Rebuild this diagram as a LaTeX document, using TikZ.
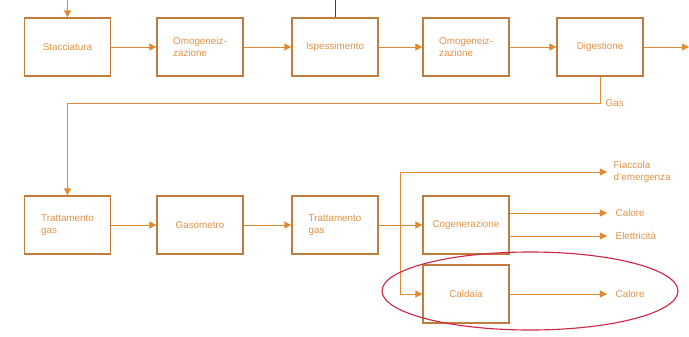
\documentclass[tikz,border=0pt]{standalone}
\usepackage{fontspec}
\setmainfont{Liberation Sans}
\usetikzlibrary{arrows.meta}
\definecolor{bordo}{RGB}{196,124,62}
\definecolor{linea}{RGB}{224,138,52}
\definecolor{testo}{RGB}{226,146,70}
\definecolor{cerchio}{RGB}{208,40,70}
\tikzstyle{blocco}=[draw=bordo, line width=0.9pt, minimum width=2.15cm, minimum height=1.45cm, align=left, text=testo, font=\fontsize{7}{8.5}\selectfont]
\tikzstyle{etichetta}=[text=testo, align=left, anchor=west, inner sep=1pt, font=\fontsize{7}{8.5}\selectfont]
\tikzstyle{freccia}=[draw=linea, line width=0.6pt, -{Triangle[length=5pt,width=5pt]}]

\begin{document}
\begin{tikzpicture}[x=0.025cm, y=-0.025cm]
\useasboundingbox (0,0) rectangle (689,336);
% linea fanghi
\draw (67.5,47) node[blocco] (stacc) {Stacciatura};
\draw (200,47) node[blocco] (omog1) {Omogeneiz-\\zazione};
\draw (335,47) node[blocco] (ispess) {Ispessimento};
\draw (466,47) node[blocco] (omog2) {Omogeneiz-\\zazione};
\draw (600,47) node[blocco] (digest) {Digestione};
\coordinate (ingresso) at (67.5,0);
\coordinate (sopra) at (335,0);
\coordinate (uscita) at (689,47);
\draw[freccia] (ingresso) -- (stacc);
\draw[line width=0.7pt, black!75] (sopra) -- (ispess);
\draw[freccia] (stacc) -- (omog1);
\draw[freccia] (omog1) -- (ispess);
\draw[freccia] (ispess) -- (omog2);
\draw[freccia] (omog2) -- (digest);
\draw[freccia] (digest) -- (uscita);
% linea gas
\draw (67.5,225) node[blocco] (tratt1) {Trattamento\\gas};
\draw (200,225) node[blocco] (gasom) {Gasometro};
\draw (335,225) node[blocco] (tratt2) {Trattamento\\gas};
\draw (466,225) node[blocco] (cogen) {Cogenerazione};
\draw (466,294) node[blocco] (cald) {Caldaia};
\coordinate (curva) at (600,103);
\draw[freccia] (digest) -- (curva) -| (tratt1);
\node[etichetta] (gas) at (604,103) {Gas};
\draw[freccia] (tratt1) -- (gasom);
\draw[freccia] (gasom) -- (tratt2);
\coordinate (nodo) at (400,225);
\coordinate (alto) at (400,172);
\coordinate (basso) at (400,294);
\coordinate (fiaccola) at (607,172);
\draw[draw=linea, line width=0.6pt] (tratt2) -- (nodo);
\draw[freccia] (nodo) -- (cogen);
\draw[freccia] (nodo) -- (alto) -- (fiaccola);
\draw[freccia] (nodo) -- (basso) -- (cald);
\node[etichetta] (fiacc) at (612,172) {Fiaccola\\d'emergenza};
% uscite
\coordinate (c1) at (607,213);
\coordinate (c2) at (607,236);
\coordinate (c3) at (607,294);
\draw[freccia] (cogen.east |- c1) -- (c1);
\draw[freccia] (cogen.east |- c2) -- (c2);
\draw[freccia] (cald) -- (c3);
\node[etichetta] (calore1) at (614,213) {Calore};
\node[etichetta] (elettr) at (614,236) {Elettricità};
\node[etichetta] (calore2) at (614,294) {Calore};
% evidenziazione
\draw[cerchio, line width=0.8pt] (530,291) ellipse (148 and 39);
\end{tikzpicture}
\end{document}
